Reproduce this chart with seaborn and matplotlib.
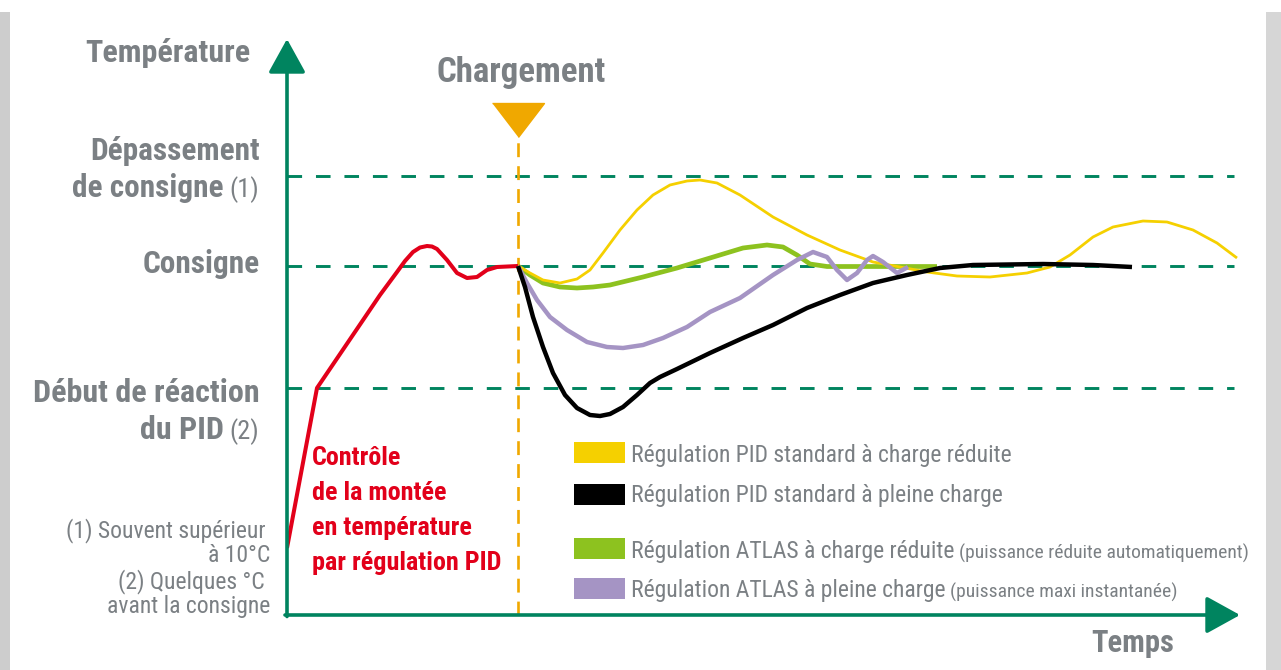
import matplotlib
matplotlib.use("Agg")
import matplotlib.pyplot as plt
import seaborn as sns
from matplotlib import font_manager
from matplotlib.patches import Rectangle

sns.set_style("white")
# condensed face if the machine has one, otherwise Roboto at a smaller size
avail = {f.name for f in font_manager.fontManager.ttflist}
if "Roboto Condensed" in avail:
    plt.rcParams['font.family'] = ['Roboto Condensed', 'DejaVu Sans']
    k = 1.0
else:
    plt.rcParams['font.family'] = ['Roboto', 'DejaVu Sans']
    k = 0.86
plt.rcParams['lines.scale_dashes'] = False

# --- data (time / temperature in diagram units, origin at the axes corner) ---
levels = {"overshoot": 439, "setpoint": 349, "pid_start": 227}
load_t = 231

red_t = [0, 30, 93, 110, 118, 126, 133, 140, 145, 150, 160, 170, 180, 190, 200, 210, 231]
red_T = [67, 227, 320, 343, 354, 363, 367.5, 369, 368.5, 366, 355, 342, 337, 338, 345, 348, 349]

yellow_t = [231, 243, 256, 273, 290, 303, 316, 333, 350, 366, 383, 400, 413, 430, 453, 486, 520,
            553, 586, 613, 640, 670, 703, 740, 763, 783, 806, 826, 856, 880, 906, 930, 950]
yellow_T = [349, 342, 335, 332, 336, 345, 362, 385, 405, 420, 430, 434, 435, 432, 420, 398, 380,
            365, 353, 348, 343, 339, 338, 342, 348, 360, 378, 388, 394, 393, 385, 372, 357]

green_t = [231, 243, 256, 273, 290, 306, 323, 356, 390, 423, 456, 480, 496, 510, 523, 540, 650]
green_T = [349, 340, 332, 328, 327, 328, 330, 338, 347, 357, 367, 370, 368, 360, 351, 348.5, 348.5]

black_t = [231, 238, 246, 256, 266, 278, 290, 303, 313, 323, 336, 350, 363, 373, 390, 423, 456,
           486, 520, 553, 586, 620, 653, 686, 756, 806, 845]
black_T = [349, 328, 298, 268, 242, 220, 207, 200, 199, 201, 208, 220, 232, 238, 246, 262, 277,
           290, 307, 320, 332, 340, 347, 350, 351, 350, 348]

purple_t = [231, 240, 250, 263, 280, 300, 320, 336, 356, 376, 400, 423, 453, 486, 510, 526, 540,
            550, 560, 570, 580, 586, 596, 610, 621]
purple_T = [349, 332, 315, 298, 285, 273, 268, 267, 270, 277, 288, 303, 317, 340, 355, 363, 358,
            345, 335, 342, 355, 359, 353, 342, 348]

legend_labels = ["Régulation PID standard à charge réduite",
                 "Régulation PID standard à pleine charge",
                 "Régulation ATLAS à charge réduite",
                 "Régulation ATLAS à pleine charge"]
legend_notes = ["", "", "(puissance réduite automatiquement)", "(puissance maxi instantanée)"]

red_lines = ["Contrôle", "de la montée", "en température", "par régulation PID"]
notes = ["(1) Souvent supérieur", "à 10°C", "(2) Quelques °C", "avant la consigne"]

GREEN = "#00845f"
ORANGE = "#f0a800"
RED = "#e2001a"
GRAY = "#7b8084"
YELLOW = "#f5d000"
LIME = "#8dc21f"
PURPLE = "#a594c4"
colors = [YELLOW, "black", LIME, PURPLE]

fig = plt.figure(figsize=(12.81, 6.70), dpi=100)
ax = fig.add_axes([287 / 1281, 55 / 670, 953 / 1281, 576 / 670])
ax.set_xlim(0, 953)
ax.set_ylim(0, 576)
ax.axis("off")

# side shadows of the card
fig.add_artist(Rectangle((0, 0), 10 / 1281, 658 / 670, transform=fig.transFigure,
                         color="#cdcdcd", lw=0))
fig.add_artist(Rectangle((1266 / 1281, 0), 15 / 1281, 658 / 670, transform=fig.transFigure,
                         color="#d6d6d6", lw=0))

# reference levels
for lvl in levels.values():
    ax.plot([0, 947], [lvl, lvl], color=GREEN, lw=2.1, dashes=(10.5, 10))

# loading marker
ax.plot([load_t, load_t], [0, 478], color=ORANGE, lw=1.9, dashes=(10, 6.5))
ax.plot([load_t], [495], marker=[(-26, 17), (26, 17), (0, -17)], ms=37.4,
        color=ORANGE, lw=0, clip_on=False)

# curves
sns.lineplot(x=red_t, y=red_T, color=RED, lw=2.9, sort=False, estimator=None, ax=ax)
sns.lineplot(x=green_t, y=green_T, color=LIME, lw=3.4, sort=False, estimator=None, ax=ax)
sns.lineplot(x=yellow_t, y=yellow_T, color=YELLOW, lw=2.0, sort=False, estimator=None, ax=ax)
sns.lineplot(x=purple_t, y=purple_T, color=PURPLE, lw=3.2, sort=False, estimator=None, ax=ax)
sns.lineplot(x=black_t, y=black_T, color="black", lw=3.2, sort=False, estimator=None, ax=ax)
for ln in ax.lines:
    ln.set_solid_capstyle("butt")
    ln.set_solid_joinstyle("round")

# axes with arrows
arrow = dict(arrowstyle="-|>,head_length=1.05,head_width=0.58", mutation_scale=20,
             color=GREEN, lw=2.6, shrinkA=0, shrinkB=0)
ax.annotate("", xy=(0, 576), xytext=(0, -1.5), arrowprops=arrow, annotation_clip=False)
ax.annotate("", xy=(953, 0), xytext=(-2, 0), arrowprops=arrow, annotation_clip=False)

# axis labels
bold = dict(color=GRAY, fontweight="bold", va="baseline")
ax.text(-37, 553, "Température", ha="right", fontsize=23 * k, **bold)
ax.text(234, 533, "Chargement", ha="center", fontsize=25 * k, **bold)
ax.text(887, -37, "Temps", ha="right", fontsize=22 * k, **bold)

ax.text(-27, 455, "Dépassement", ha="right", fontsize=22.5 * k, **bold)
s1 = ax.text(-28, 418, "(1)", ha="right", va="baseline", fontsize=19 * k, color=GRAY)
ax.annotate("de consigne", xy=(0, 0), xycoords=s1, xytext=(-4, 0), textcoords="offset points",
            ha="right", va="bottom", fontsize=22.5 * k, color=GRAY, fontweight="bold")
ax.text(-27, 342, "Consigne", ha="right", fontsize=22.5 * k, **bold)
ax.text(-27, 213, "Début de réaction", ha="right", fontsize=23 * k, **bold)
s2 = ax.text(-28, 176, "(2)", ha="right", va="baseline", fontsize=19 * k, color=GRAY)
ax.annotate("du PID", xy=(0, 0), xycoords=s2, xytext=(-4, 0), textcoords="offset points",
            ha="right", va="bottom", fontsize=23 * k, color=GRAY, fontweight="bold")

# footnotes
for txt, x, y in zip(notes, [-22, -17, -22, -17], [78, 53, 27, 2]):
    ax.text(x, y, txt, ha="right", va="baseline", fontsize=17 * k, color=GRAY)

# red annotation
for txt, y in zip(red_lines, [150, 115, 80, 45]):
    ax.text(25, y, txt, ha="left", va="baseline", fontsize=18.8 * k, color=RED,
            fontweight="bold")

# legend
sw_bottoms = [152, 110, 56, 16]
txt_base = [153, 113, 57, 18]
for lab, note, col, yb, yt in zip(legend_labels, legend_notes, colors, sw_bottoms, txt_base):
    ax.add_patch(Rectangle((287, yb), 51, 21, color=col, lw=0, clip_on=False))
    t = ax.text(344, yt, lab, ha="left", va="baseline", fontsize=17 * k, color=GRAY)
    if note:
        ax.annotate(note, xy=(1, 0), xycoords=t, xytext=(3.5, 0), textcoords="offset points",
                    ha="left", va="bottom", fontsize=14 * k, color=GRAY)

fig.savefig("out.png", dpi=100)
